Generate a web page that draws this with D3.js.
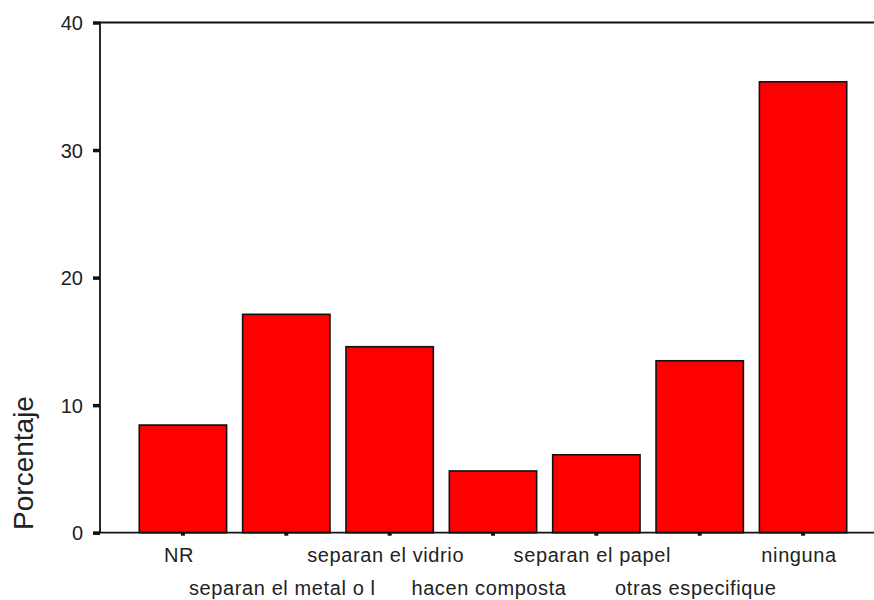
<!DOCTYPE html>
<html>
<head>
<meta charset="utf-8">
<script src="https://cdn.jsdelivr.net/npm/d3@7"></script>
<style>
  html, body { margin: 0; padding: 0; background: #fff; }
  svg { display: block; font-family: Arial, "Liberation Sans", sans-serif; }
</style>
</head>
<body>
<svg id="chart" width="874" height="600"></svg>
<script>
const categories = ["NR", "separan el metal o l", "separan el vidrio", "hacen composta", "separan el papel", "otras especifique", "ninguna"];
const values = [8.44, 17.12, 14.58, 4.84, 6.11, 13.48, 35.35];
const yTicks = [0, 10, 20, 30, 40];
const yLabel = "Porcentaje";

const W = 874, H = 600;
const svg = d3.select("#chart");

const x = d3.scaleBand().domain(categories).range([100, 886]).paddingInner(0.155).paddingOuter(0.38);
const y = d3.scaleLinear().domain([0, 40]).range([532.7, 22.5]);

// frame lines
svg.append("line").attr("x1", 100).attr("x2", W).attr("y1", y(40)).attr("y2", y(40))
  .attr("stroke", "#111").attr("stroke-width", 1.8);

// bars
svg.append("g").selectAll("rect").data(categories).join("rect")
  .attr("x", d => x(d))
  .attr("y", (d, i) => y(values[i]))
  .attr("width", x.bandwidth())
  .attr("height", (d, i) => y(0) - y(values[i]))
  .attr("fill", "#ff0000")
  .attr("stroke", "#111")
  .attr("stroke-width", 1.6);

// y axis
const yAxis = d3.axisLeft(y).tickValues(yTicks).tickSize(7).tickPadding(10).tickFormat(d3.format("d"));
const gy = svg.append("g").attr("transform", "translate(100,0)").call(yAxis);
gy.select(".domain").remove();
gy.append("line").attr("x1", 0).attr("x2", 0).attr("y1", y(40)).attr("y2", y(0))
  .attr("stroke", "#111").attr("stroke-width", 1.8);
gy.selectAll(".tick line").attr("stroke", "#111").attr("stroke-width", 3.5);
gy.selectAll(".tick text").attr("font-size", 20).attr("fill", "#222")
  .attr("x", -17).attr("dy", "0.36em");

// x axis
const xAxis = d3.axisBottom(x).tickSize(3).tickSizeOuter(0).tickFormat("");
const gx = svg.append("g").attr("transform", `translate(0,${y(0)})`).call(xAxis);
gx.select(".domain").remove();
gx.append("line").attr("x1", 93).attr("x2", W).attr("y1", 0).attr("y2", 0)
  .attr("stroke", "#111").attr("stroke-width", 1.8);
gx.selectAll(".tick line").attr("stroke", "#111").attr("stroke-width", 4);

// x labels (staggered in two rows)
svg.append("g").selectAll("text").data(categories).join("text")
  .attr("x", d => x(d) + x.bandwidth() / 2 - 4)
  .attr("y", (d, i) => i % 2 === 0 ? 561.5 : 595)
  .attr("text-anchor", "middle")
  .attr("font-size", 20)
  .attr("letter-spacing", 0.6)
  .attr("fill", "#222")
  .text(d => d);

// y label
svg.append("text")
  .attr("transform", "translate(33,463) rotate(-90)")
  .attr("text-anchor", "middle")
  .attr("font-size", 28)
  .attr("fill", "#222")
  .text(yLabel);
</script>
</body>
</html>
